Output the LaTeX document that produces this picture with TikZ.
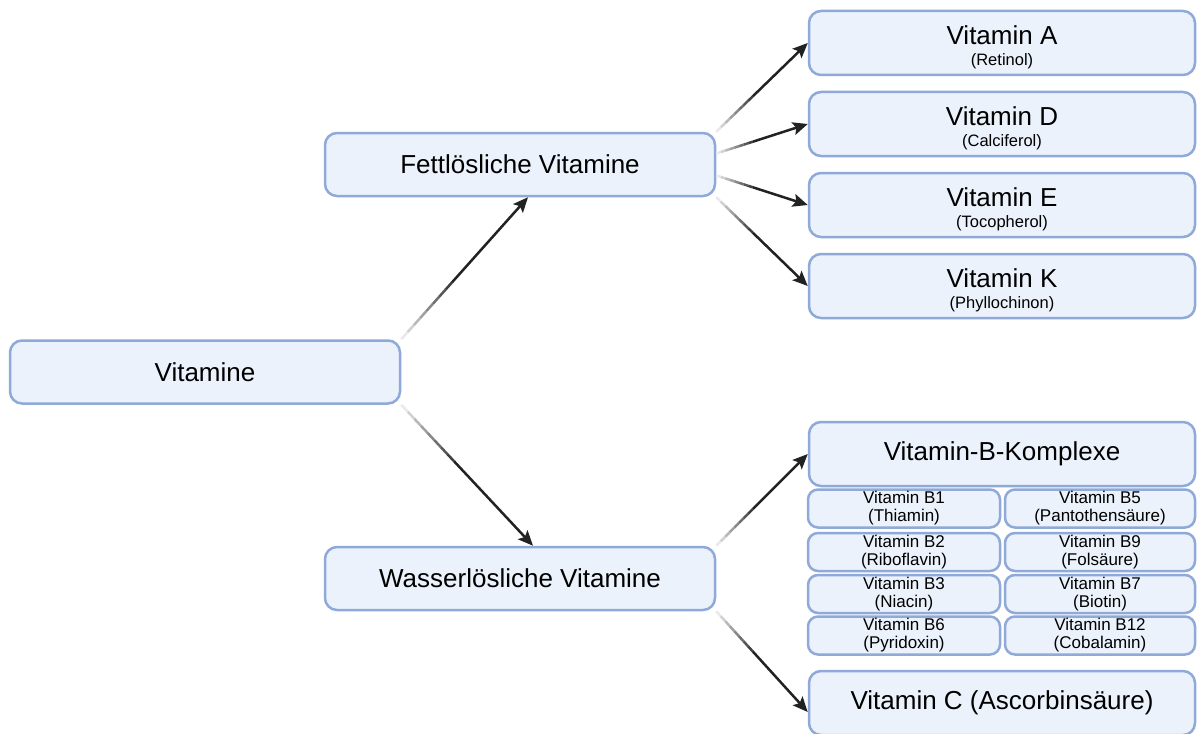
\documentclass[tikz,border=0pt]{standalone}
\usepackage{fontspec}
\setmainfont{Liberation Sans}
\usetikzlibrary{arrows.meta,calc}

\definecolor{boxfill}{HTML}{EBF2FB}
\definecolor{boxline}{HTML}{8FA9D9}
\definecolor{arrowdark}{HTML}{222222}

% arrow that fades in from light grey at its start
\newcommand{\fadearrow}[2]{%
  \foreach \i in {0,...,7} {
    \pgfmathtruncatemacro{\shade}{10+\i*11}
    \draw[line width=2.5pt, arrowdark!\shade!white] ($(#1)!\i*0.05!(#2)$) -- ($(#1)!\i*0.05+0.05!(#2)$);
  }
  \draw[line width=2.5pt, arrowdark, -{Stealth[length=15pt,width=13pt,inset=3pt]}] ($(#1)!0.4!(#2)$) -- (#2);
}
% title with a small second line
\newcommand{\vitsub}[2]{\rule{0pt}{27pt}#1\\[-9pt]{\fontsize{16.5}{17}\selectfont #2}}

\begin{document}
\begin{tikzpicture}[x=1pt,y=-1pt,
  box/.style={draw=boxline, fill=boxfill, line width=2.5pt, rounded corners=12pt,
    align=center, inner sep=0pt, font=\fontsize{26}{30}\selectfont},
  mainbox/.style={box, minimum width=390pt, minimum height=63pt},
  vitbox/.style={box, minimum width=386pt, minimum height=64pt},
  bbox/.style={box, rounded corners=10pt, minimum height=38pt, font=\fontsize{17}{18}\selectfont}]
  \clip (0,0) rectangle (1198,733);
  \fill[white] (0,0) rectangle (1198,733);

  % left and middle column
  \node[mainbox] (vit) at (205,372) {Vitamine};
  \node[mainbox] (fett) at (520,164.5) {Fettlösliche Vitamine};
  \node[mainbox] (wasser) at (520,578.5) {Wasserlösliche Vitamine};

  % fat soluble
  \node[vitbox] (vitA) at (1002,43) {\vitsub{Vitamin A}{(Retinol)}};
  \node[vitbox] (vitD) at (1002,124) {\vitsub{Vitamin D}{(Calciferol)}};
  \node[vitbox] (vitE) at (1002,205) {\vitsub{Vitamin E}{(Tocopherol)}};
  \node[vitbox] (vitK) at (1002,286) {\vitsub{Vitamin K}{(Phyllochinon)}};

  % water soluble
  \node[vitbox] (bkompl) at (1002,454) {Vitamin-B-Komplexe};
  \node[bbox, minimum width=192pt] (vitBa) at (904,508.5) {Vitamin B1\\(Thiamin)};
  \node[bbox, minimum width=190pt] (vitBe) at (1100,508.5) {Vitamin B5\\(Pantothensäure)};
  \node[bbox, minimum width=192pt] (vitBb) at (904,552) {Vitamin B2\\(Riboflavin)};
  \node[bbox, minimum width=190pt] (vitBi) at (1100,552) {Vitamin B9\\(Folsäure)};
  \node[bbox, minimum width=192pt] (vitBc) at (904,594) {Vitamin B3\\(Niacin)};
  \node[bbox, minimum width=190pt] (vitBg) at (1100,594) {Vitamin B7\\(Biotin)};
  \node[bbox, minimum width=192pt] (vitBf) at (904,635.5) {Vitamin B6\\(Pyridoxin)};
  \node[bbox, minimum width=190pt] (vitBl) at (1100,635.5) {Vitamin B12\\(Cobalamin)};
  \node[vitbox] (vitC) at (1002,703) {Vitamin C (Ascorbinsäure)};

  % arrow ends
  \coordinate (fettIn) at ([xshift=8pt]fett.south);
  \coordinate (wasserIn) at ([xshift=13pt]wasser.north);
  \coordinate (fettUp) at ([yshift=11pt]fett.east);
  \coordinate (fettDown) at ([yshift=-11pt]fett.east);
  \coordinate (vitCIn) at ([yshift=-9pt]vitC.west);

  \fadearrow{vit.north east}{fettIn}
  \fadearrow{vit.south east}{wasserIn}
  \fadearrow{fett.north east}{vitA.west}
  \fadearrow{fettUp}{vitD.west}
  \fadearrow{fettDown}{vitE.west}
  \fadearrow{fett.south east}{vitK.west}
  \fadearrow{wasser.north east}{bkompl.west}
  \fadearrow{wasser.south east}{vitCIn}
\end{tikzpicture}
\end{document}
